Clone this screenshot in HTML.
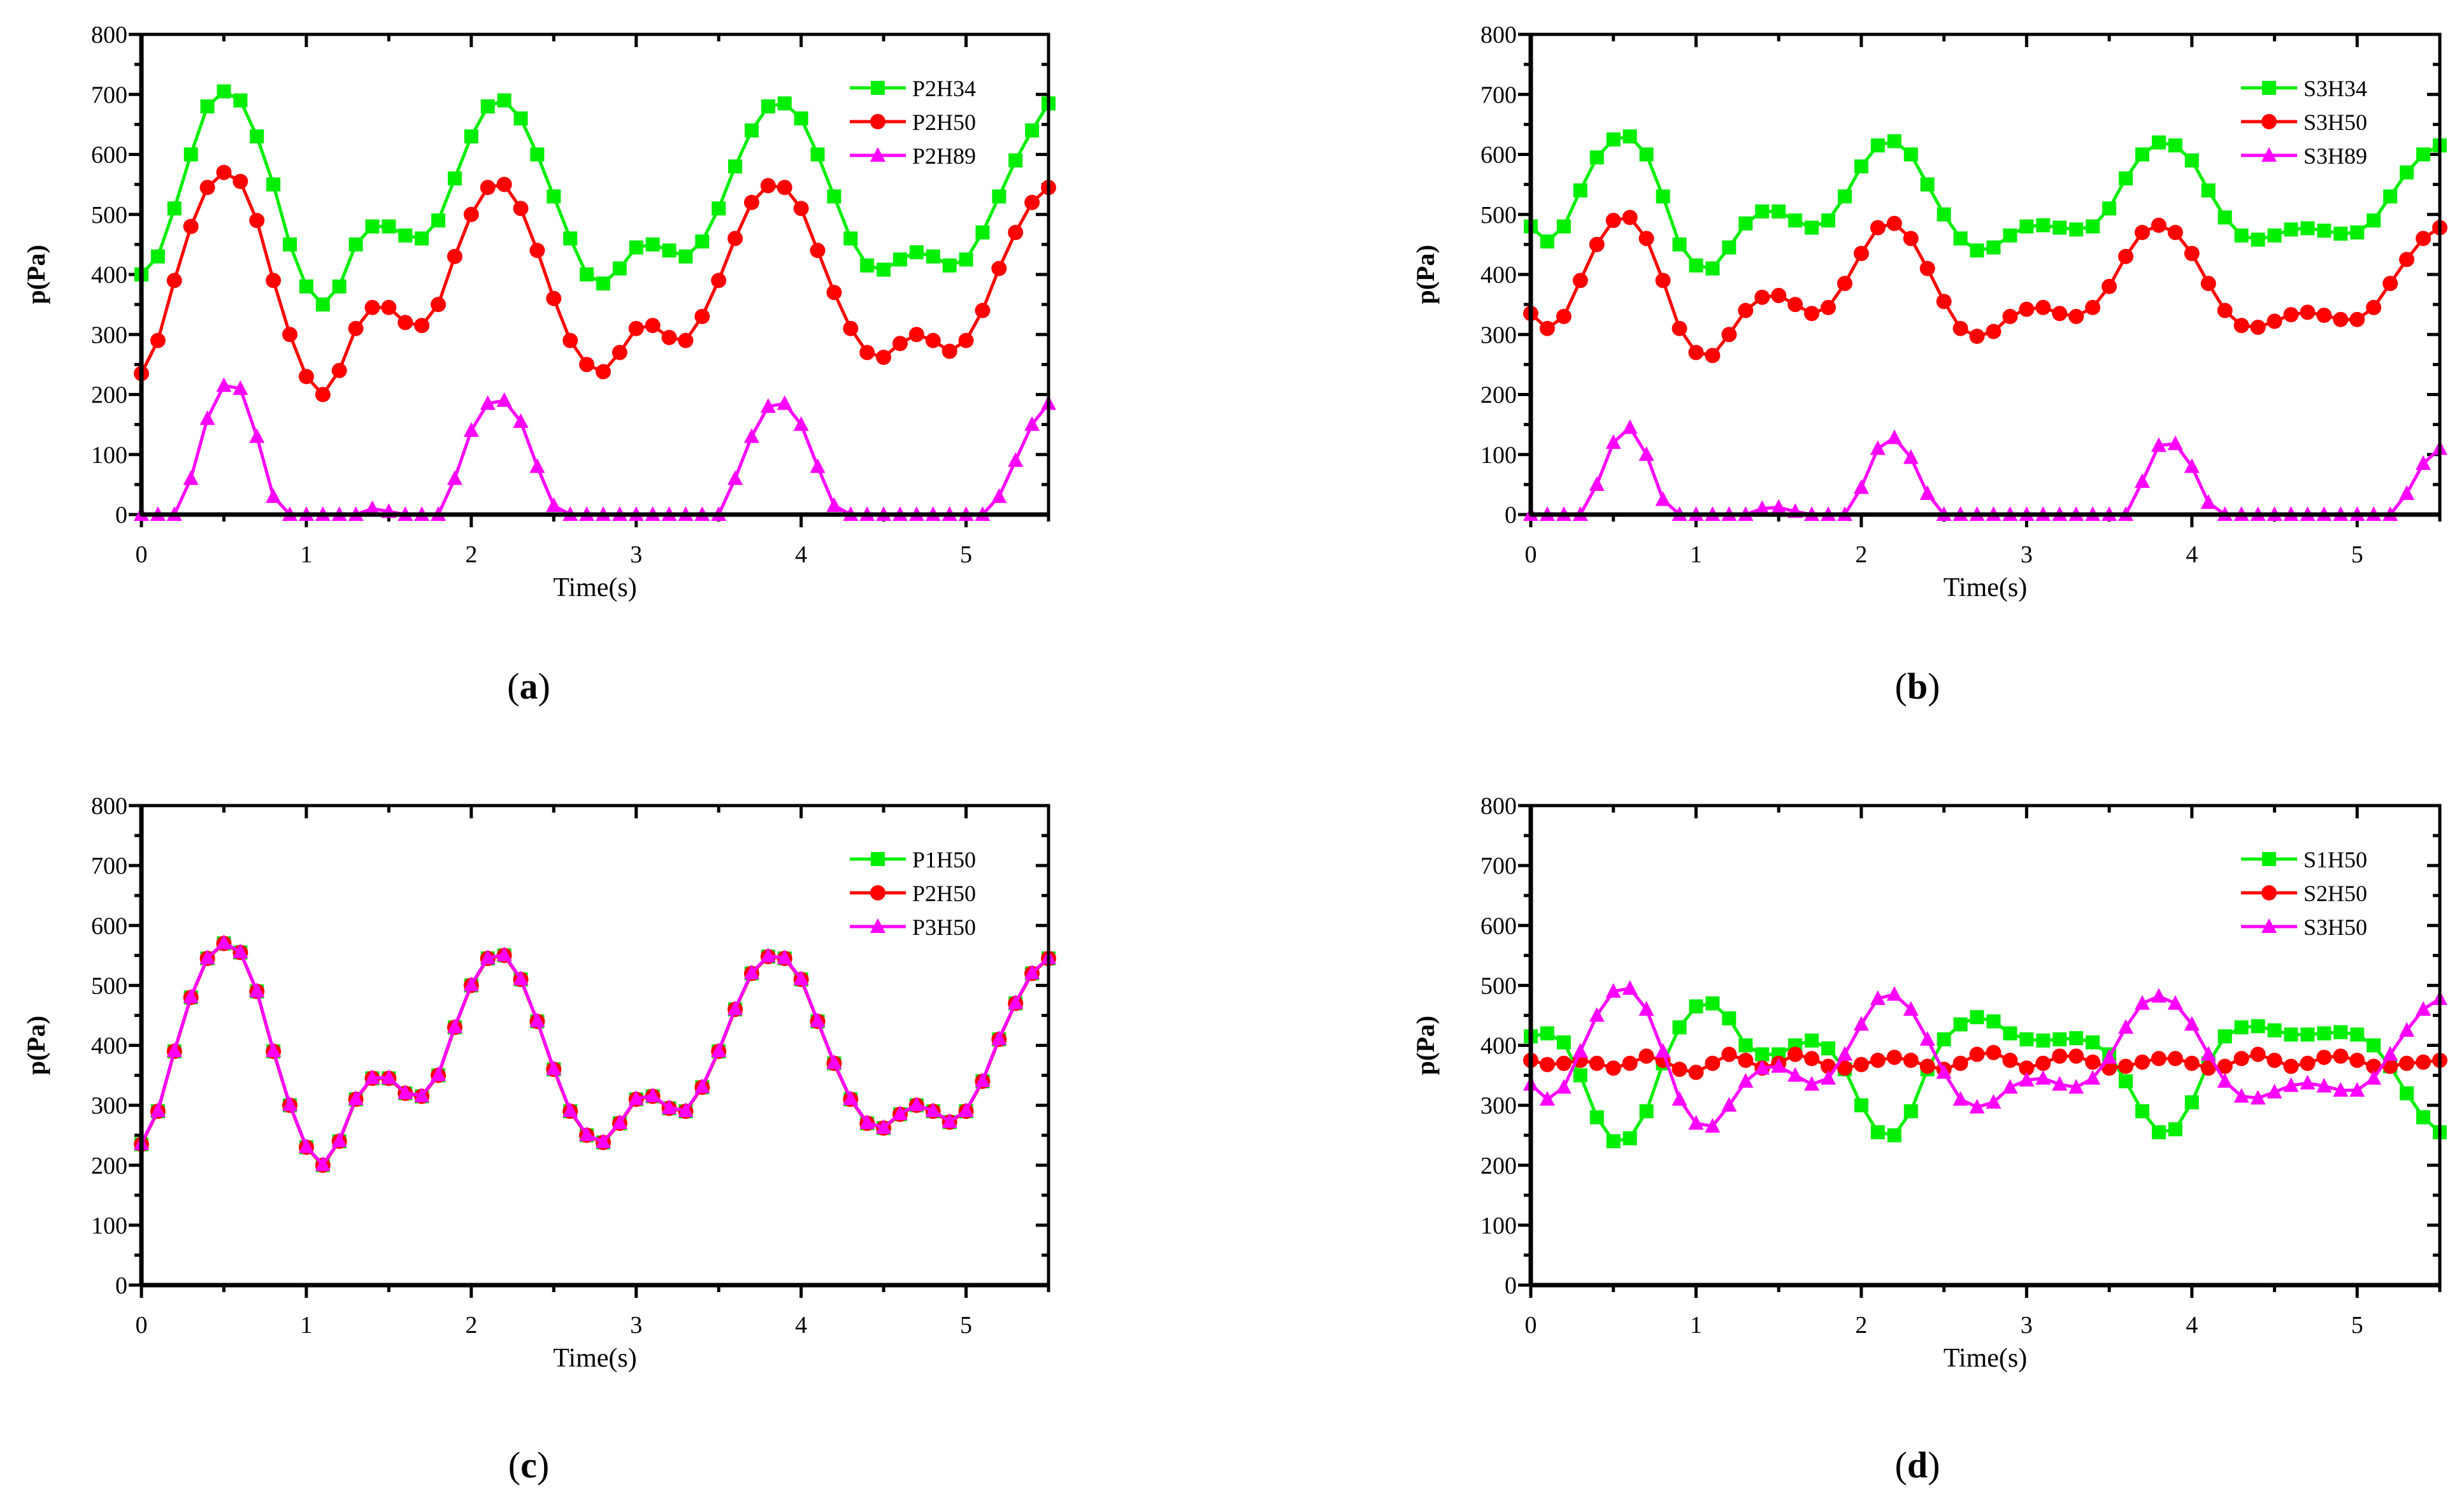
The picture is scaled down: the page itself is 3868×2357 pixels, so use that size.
<!DOCTYPE html>
<html><head><meta charset="utf-8"><style>
html,body{margin:0;padding:0;background:#fff}
svg{display:block}
text{font-family:"Liberation Serif",serif;fill:#000}
</style></head><body>
<svg id="fig" width="3868" height="2357" viewBox="0 0 3868 2357" xmlns="http://www.w3.org/2000/svg"></svg>
<script>
const times=[];for(let i=0;i<=55;i++)times.push(+(i*0.1).toFixed(1));
const xTicks=[0,1,2,3,4,5];
const yTicks=[0,100,200,300,400,500,600,700,800];
const p2h34=[400,430,510,600,680,705,690,630,550,450,380,350,380,450,480,480,465,460,490,560,630,680,690,660,600,530,460,400,385,410,445,450,440,430,455,510,580,640,680,685,660,600,530,460,415,408,425,437,430,415,425,470,530,590,640,685];
const p2h50=[235,290,390,480,545,570,555,490,390,300,230,200,240,310,345,345,320,315,350,430,500,545,550,510,440,360,290,250,238,270,310,315,295,290,330,390,460,520,548,545,510,440,370,310,270,262,285,300,290,272,290,340,410,470,520,545];
const p2h89=[0,0,0,60,160,215,210,130,30,0,0,0,0,0,10,5,0,0,0,60,140,185,190,155,80,15,0,0,0,0,0,0,0,0,0,0,60,130,180,185,150,80,15,0,0,0,0,0,0,0,0,0,30,90,150,185];
const s3h34=[480,455,480,540,595,625,630,600,530,450,415,410,445,485,505,505,490,478,490,530,580,615,622,600,550,500,460,440,445,465,480,482,478,475,480,510,560,600,620,615,590,540,495,465,458,465,475,477,473,468,470,490,530,570,600,615];
const s3h50=[335,310,330,390,450,490,495,460,390,310,270,265,300,340,362,365,350,335,345,385,435,478,485,460,410,355,310,297,305,330,342,345,335,330,345,380,430,470,482,470,435,385,340,315,312,322,333,337,332,325,325,345,385,425,460,478];
const s3h89=[0,0,0,0,50,120,145,100,25,0,0,0,0,0,10,12,5,0,0,0,45,110,128,95,35,0,0,0,0,0,0,0,0,0,0,0,0,55,115,118,80,20,0,0,0,0,0,0,0,0,0,0,0,35,85,110];
const p1h50=[235,290,390,480,545,570,555,490,390,300,230,200,240,310,345,345,320,315,350,430,500,545,550,510,440,360,290,250,238,270,310,315,295,290,330,390,460,520,548,545,510,440,370,310,270,262,285,300,290,272,290,340,410,470,520,545];
const p3h50=[236,291,391,481,546,571,556,491,391,301,231,201,241,311,346,346,321,316,351,431,501,546,551,511,441,361,291,251,239,271,311,316,296,291,331,391,461,521,549,546,511,441,371,311,271,263,286,301,291,273,291,341,411,471,521,546];
const s1h50=[415,420,405,350,280,240,245,290,370,430,465,470,445,400,385,385,400,408,395,360,300,255,250,290,360,410,435,447,440,420,410,408,410,412,405,385,340,290,255,260,305,370,415,430,432,425,418,418,420,422,418,400,365,320,280,255];
const s2h50=[375,368,370,375,370,362,370,382,375,360,355,370,385,375,362,370,385,378,365,362,368,375,380,375,365,360,370,385,388,375,362,370,382,382,372,362,365,372,378,378,370,362,365,378,385,375,365,370,380,382,375,365,365,370,372,375];
const s3h50d=[335,310,330,390,450,490,495,460,390,310,270,265,300,340,362,365,350,335,345,385,435,478,485,460,410,355,310,297,305,330,342,345,335,330,345,380,430,470,482,470,435,385,340,315,312,322,333,337,332,325,325,345,385,425,460,478];

const NS='http://www.w3.org/2000/svg';
const svg=document.getElementById('fig');
function mk(tag,attrs,parent){const e=document.createElementNS(NS,tag);for(const k in attrs)e.setAttribute(k,attrs[k]);(parent||svg).appendChild(e);return e;}
const COL={g:'#00ee00',r:'#ff0000',m:'#ff00ff'};

function panel(id,L,R,T,B,series,label,lx,ly){
  const g=mk('g',{});
  
  
  const xs=t=>L+(t/5.5)*(R-L);
  const ys=v=>B-(v/800)*(B-T);
  for(let v=0;v<=800;v+=50){
    const y=ys(v);const maj=v%100===0;const len=maj?20:11;
    mk('line',{x1:L-len,x2:L,y1:y,y2:y,stroke:'#000','stroke-width':5},g);
    mk('line',{x1:R,x2:R-len,y1:y,y2:y,stroke:'#000','stroke-width':5},g);
  }
  for(let t=0;t<=5.5;t+=0.5){
    const x=xs(t);const maj=Math.abs(t-Math.round(t))<1e-6;const len=maj?20:11;
    mk('line',{x1:x,x2:x,y1:B,y2:B+len,stroke:'#000','stroke-width':5},g);
    mk('line',{x1:x,x2:x,y1:T,y2:T+len,stroke:'#000','stroke-width':5},g);
  }
  yTicks.forEach(v=>{const tx=mk('text',{x:L-22,y:ys(v)+13,'text-anchor':'end','font-size':38},g);tx.textContent=v;
    
    });
  xTicks.forEach(v=>{const tx=mk('text',{x:xs(v),y:B+75,'text-anchor':'middle','font-size':38},g);tx.textContent=v;
    
    });
  const xt=mk('text',{x:(L+R)/2,y:B+128,'text-anchor':'middle','font-size':42},g);xt.textContent='Time(s)';
  
  
  const yt=mk('text',{x:0,y:0,'text-anchor':'middle','font-size':40,'font-weight':'bold',transform:`translate(${L-152},${(T+B)/2}) rotate(-90)`},g);yt.textContent='p(Pa)';
  
  
  series.forEach((s,si)=>{
    const sg=mk('g',{},g);
    
    
    const pts=times.map((t,i)=>xs(t)+','+ys(s.vals[i])).join(' ');
    mk('polyline',{points:pts,fill:'none',stroke:s.c,'stroke-width':5},sg);
    times.forEach((t,i)=>drawMarker(sg,s.shape,xs(t),ys(s.vals[i]),s.c));
    const ly2=T+84+si*53;const lx1=R-312;
    const lg=mk('g',{},g);
    
    
    mk('line',{x1:lx1,x2:lx1+88,y1:ly2,y2:ly2,stroke:s.c,'stroke-width':5},lg);
    drawMarker(lg,s.shape,lx1+44,ly2,s.c);
    const lt=mk('text',{x:lx1+98,y:ly2+13,'font-size':36},lg);lt.textContent=s.name;
  });
  mk('rect',{x:L,y:T,width:R-L,height:B-T,fill:'none',stroke:'#000','stroke-width':5},g);
  mk('line',{x1:L,x2:R,y1:B,y2:B,stroke:'#000','stroke-width':7},g);
  mk('line',{x1:L,x2:L,y1:T,y2:B,stroke:'#000','stroke-width':7},g);
  const pl=mk('text',{x:lx,y:ly,'text-anchor':'middle','font-size':58},g);
  pl.innerHTML='(<tspan font-weight="bold">'+label+'</tspan>)';
  
  
}
function drawMarker(p,shape,x,y,c){
  const s=11;
  if(shape==='sq')mk('rect',{x:x-s,y:y-s,width:2*s,height:2*s,fill:c},p);
  else if(shape==='ci')mk('circle',{cx:x,cy:y,r:s+1,fill:c},p);
  else mk('polygon',{points:`${x},${y-s-2} ${x-s-1},${y+s-1} ${x+s+1},${y+s-1}`,fill:c},p);
}
panel('a',222,1646,54,808,[{name:'P2H34',vals:p2h34,c:COL.g,shape:'sq'},{name:'P2H50',vals:p2h50,c:COL.r,shape:'ci'},{name:'P2H89',vals:p2h89,c:COL.m,shape:'tr'}],'a',830,1097);
panel('b',2403,3830,54,808,[{name:'S3H34',vals:s3h34,c:COL.g,shape:'sq'},{name:'S3H50',vals:s3h50,c:COL.r,shape:'ci'},{name:'S3H89',vals:s3h89,c:COL.m,shape:'tr'}],'b',3010,1097);
panel('c',222,1646,1265,2018,[{name:'P1H50',vals:p1h50,c:COL.g,shape:'sq'},{name:'P2H50',vals:p2h50,c:COL.r,shape:'ci'},{name:'P3H50',vals:p3h50,c:COL.m,shape:'tr'}],'c',830,2320);
panel('d',2403,3830,1265,2018,[{name:'S1H50',vals:s1h50,c:COL.g,shape:'sq'},{name:'S2H50',vals:s2h50,c:COL.r,shape:'ci'},{name:'S3H50',vals:s3h50d,c:COL.m,shape:'tr'}],'d',3010,2320);
</script>
</body></html>
